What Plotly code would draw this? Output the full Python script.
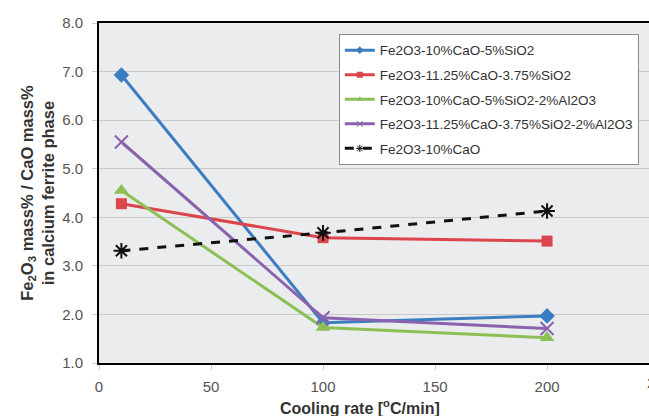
import plotly.graph_objects as go

# ---- data ----
cooling_rate = [10, 100, 200]
fe_10cao_5sio2 = [6.93, 1.83, 1.97]
fe_1125cao_375sio2 = [4.28, 3.58, 3.51]
fe_10cao_5sio2_2al = [4.55, 1.73, 1.52]
fe_1125cao_375sio2_2al = [5.55, 1.93, 1.71]
fe_10cao = [3.31, 3.68, 4.13]

series_names = [
    "Fe2O3-10%CaO-5%SiO2",
    "Fe2O3-11.25%CaO-3.75%SiO2",
    "Fe2O3-10%CaO-5%SiO2-2%Al2O3",
    "Fe2O3-11.25%CaO-3.75%SiO2-2%Al2O3",
    "Fe2O3-10%CaO",
]
x_ticks = [0, 50, 100, 150, 200, 250]
y_ticks = [1, 2, 3, 4, 5, 6, 7, 8]

X_MAX = 245.5  # visible part of the 0-250 axis (right side is cropped)

fig = go.Figure()

styles = [
    (fe_10cao_5sio2, "#3a7dc0", "diamond", 12, "solid", False),
    (fe_1125cao_375sio2, "#dc454b", "square", 11, "solid", False),
    (fe_10cao_5sio2_2al, "#8cc057", "triangle-up", 13, "solid", False),
    (fe_1125cao_375sio2_2al, "#8a62ad", "x-thin-open", 13, "solid", True),
    (fe_10cao, "#111111", "asterisk-open", 13, "dash", True),
]

for i, (vals, col, sym, size, dash, open_sym) in enumerate(styles):
    mk = dict(color=col, symbol=sym, size=size)
    if open_sym:
        mk["line"] = dict(width=2, color=col)
    fig.add_trace(go.Scatter(
        x=cooling_rate, y=vals, name=series_names[i], mode="lines+markers",
        line=dict(color=col, width=3, dash=dash),
        marker=mk, showlegend=False, cliponaxis=False,
    ))

# legend-only entries with small symbols, as in the reference
for i, (vals, col, sym, size, dash, open_sym) in enumerate(styles):
    mk = dict(color=col, symbol=sym, size=6)
    if open_sym:
        mk["line"] = dict(width=1, color=col)
    fig.add_trace(go.Scatter(
        x=[None], y=[None], name=series_names[i], mode="lines+markers",
        line=dict(color=col, width=3, dash=dash),
        marker=mk, legendgroup=f"g{i}", showlegend=True,
    ))

font_family = "Liberation Sans, Arial, sans-serif"

fig.update_layout(
    width=649, height=416,
    margin=dict(l=99, r=0, t=23, b=53),
    paper_bgcolor="white",
    plot_bgcolor="#ebeced",
    font=dict(family=font_family, color="#555555"),
    showlegend=True,
    legend=dict(
        x=0.436, y=0.968, xanchor="left", yanchor="top",
        bgcolor="white", bordercolor="#8a8a8a", borderwidth=1,
        font=dict(size=13.5, color="#333333", family=font_family),
        tracegroupgap=4, traceorder="grouped",
        itemwidth=30,
    ),
    xaxis=dict(
        range=[0, X_MAX], tickvals=x_ticks, ticktext=[str(t) for t in x_ticks],
        showgrid=False, zeroline=False,
        showline=True, linecolor="black", linewidth=2, mirror=True,
        ticks="outside", ticklen=5, tickcolor="#cccccc",
        tickfont=dict(size=15, color="#555555"),
        ticklabelstandoff=4,
    ),
    yaxis=dict(
        range=[1, 8], tickvals=y_ticks, tickformat=".1f",
        showgrid=True, gridcolor="#c9c9c9", gridwidth=1, zeroline=False,
        showline=True, linecolor="black", linewidth=2,
        ticks="outside", ticklen=5, tickcolor="#c9c9c9",
        tickfont=dict(size=15, color="#555555"),
        ticklabelstandoff=6,
    ),
    annotations=[
        dict(text="<b>Fe<sub>2</sub>O<sub>3</sub> mass% / CaO mass%<br>in calcium ferrite phase</b>",
             xref="paper", yref="paper", x=-0.113, y=0.5, xanchor="center", yanchor="middle",
             textangle=-90, showarrow=False,
             font=dict(size=16.5, color="#333333", family=font_family)),
        dict(text="<b>Cooling rate [<sup>o</sup>C/min]</b>",
             xref="paper", yref="paper", x=0.4745, y=-0.129, xanchor="center", yanchor="middle",
             showarrow=False, font=dict(size=16, color="#333333", family=font_family)),
        # cropped tick label for 250 at the right edge
        dict(text=str(x_ticks[-1]), xref="paper", yref="paper",
             x=(x_ticks[-1] - 0) / (X_MAX - 0), y=0, yanchor="top", xanchor="center",
             yshift=-9, showarrow=False, font=dict(size=15, color="#555555", family=font_family)),
    ],
)

fig.write_html("out.html", config={"displayModeBar": False},
               post_script="document.body.style.margin='0px';document.body.style.overflow='hidden';")
